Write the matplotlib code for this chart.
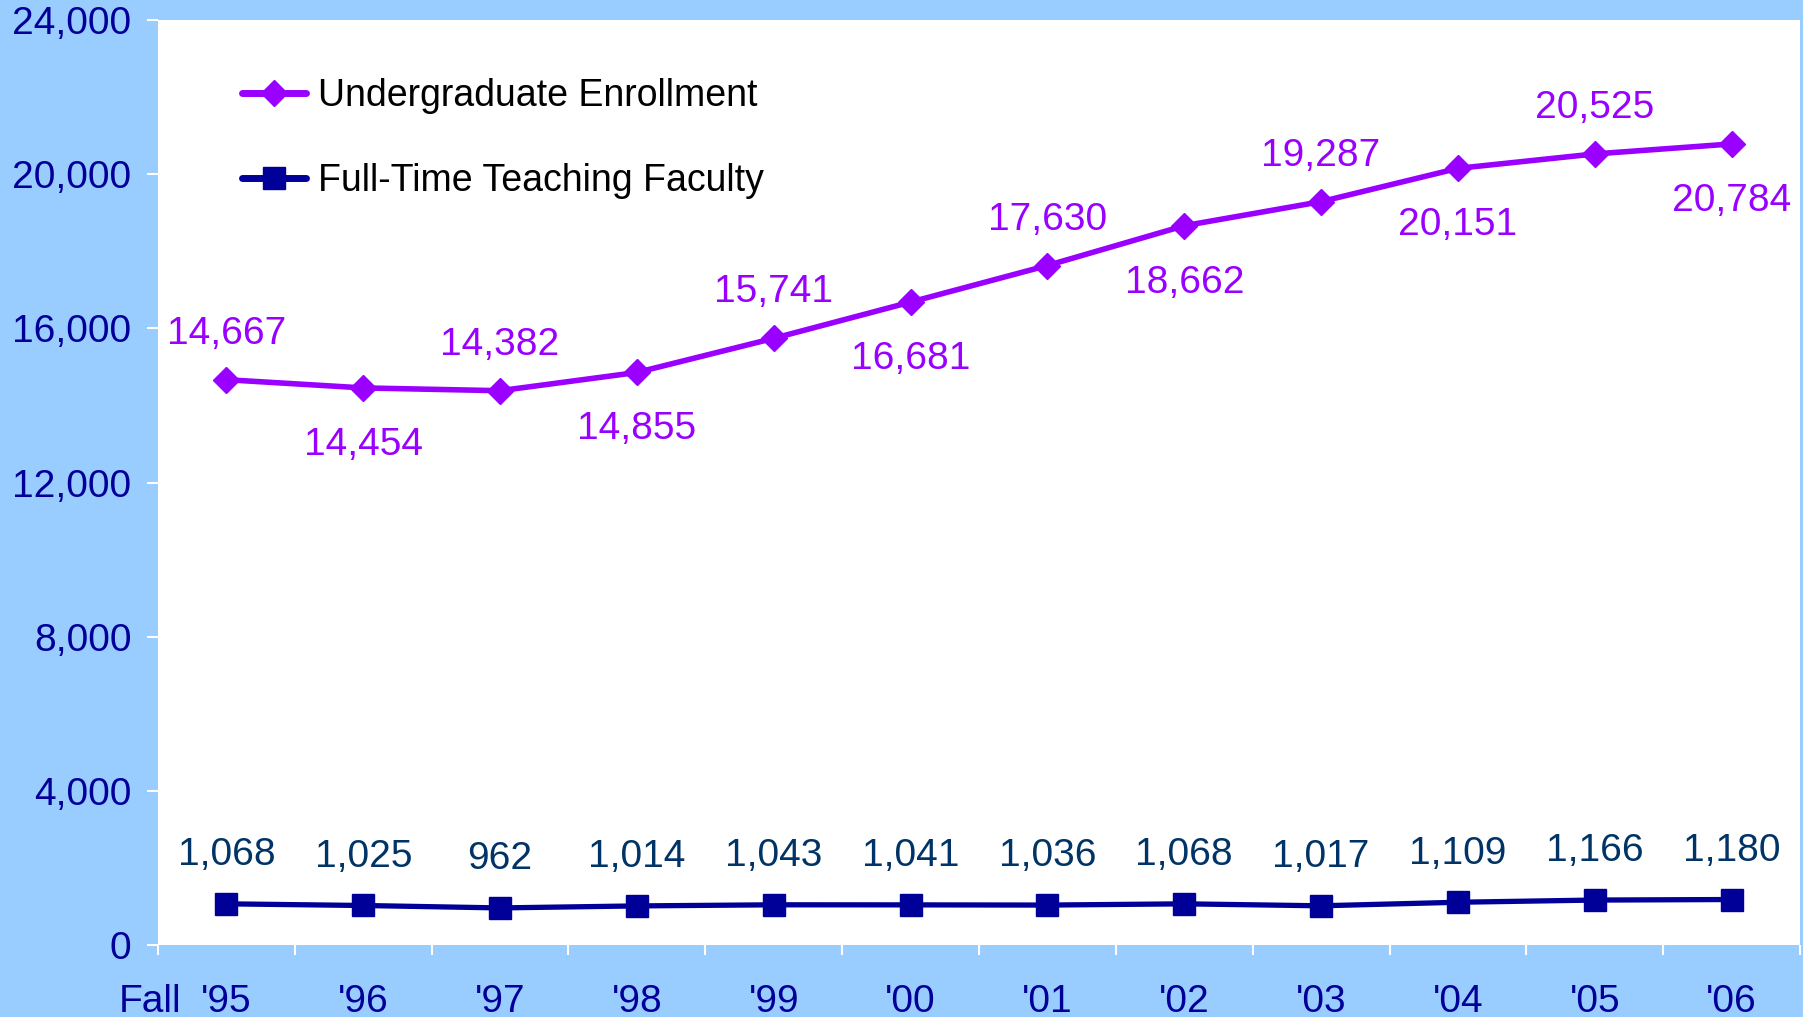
import matplotlib
matplotlib.use("Agg")
import matplotlib.pyplot as plt
import matplotlib.transforms as mtransforms

plt.rcParams['font.family'] = ['Liberation Sans', 'DejaVu Sans']

years = ["'95", "'96", "'97", "'98", "'99", "'00", "'01", "'02", "'03", "'04", "'05", "'06"]
enrollment = [14667, 14454, 14382, 14855, 15741, 16681, 17630, 18662, 19287, 20151, 20525, 20784]
faculty = [1068, 1025, 962, 1014, 1043, 1041, 1036, 1068, 1017, 1109, 1166, 1180]
yticks = [0, 4000, 8000, 12000, 16000, 20000, 24000]
series_names = ["Undergraduate Enrollment", "Full-Time Teaching Faculty"]

BG = '#99CCFF'
PURPLE = '#9900FF'
NAVY = '#000099'
LABEL_NAVY = '#003366'
TICK_COLOR = '#000099'
FS = 28

fig = plt.figure(figsize=(18.03, 10.17), dpi=100, facecolor=BG)
ax = fig.add_axes([158/1803, 72/1017, (1800-158)/1803, (945-20)/1017])
ax.set_facecolor('white')

x = list(range(len(years)))
ax.plot(x, enrollment, color=PURPLE, lw=4.0, marker='D', ms=13.5,
        mfc=PURPLE, mec=PURPLE, label=series_names[0], zorder=3)
ax.plot(x, faculty, color=NAVY, lw=3.8, marker='s', ms=16.5,
        mfc=NAVY, mec=NAVY, label=series_names[1], zorder=3)

# data labels
for i, v in enumerate(enrollment):
    dy = 33 if i % 2 == 0 else -41
    ax.annotate(f"{v:,}", (i, v), xytext=(0, dy), textcoords='offset points',
                ha='center', va='center', fontsize=FS, color=PURPLE)
for i, v in enumerate(faculty):
    ax.annotate(f"{v:,}", (i, v), xytext=(0, 35), textcoords='offset points',
                ha='center', va='center', fontsize=FS, color=LABEL_NAVY)

ax.set_xlim(-0.5, len(years) - 0.5)
ax.set_ylim(0, 24000)
ax.set_yticks(yticks)
ax.set_yticklabels([f"{t:,}" for t in yticks])
ax.tick_params(axis='y', colors='white', length=8, width=1.5, pad=11,
               labelsize=FS, labelcolor=TICK_COLOR)

ax.set_xticks(x)
ax.set_xticklabels(years)
ax.set_xticks([i - 0.5 for i in range(len(years) + 1)], minor=True)
ax.tick_params(axis='x', which='major', length=0, pad=28, labelsize=FS,
               labelcolor=TICK_COLOR)
ax.tick_params(axis='x', which='minor', colors='white', length=7, width=1.5)

for s in ax.spines.values():
    s.set_visible(False)

# "Fall" prefix
trans = mtransforms.blended_transform_factory(fig.transFigure, ax.transAxes)
ax.text(150/1803, 0, "Fall", ha='center', va='top', fontsize=FS, color=TICK_COLOR,
        transform=trans + mtransforms.ScaledTranslation(0, -28/72, fig.dpi_scale_trans))

leg = ax.legend(loc='upper left', bbox_to_anchor=(84/1642, 1 - 58/925), frameon=False,
                fontsize=27, handlelength=1.7, handletextpad=0.34, labelspacing=1.3,
                borderaxespad=0, borderpad=0)
for h in leg.legend_handles:
    h.set_solid_capstyle('round')
    h.set_linewidth(5)

fig.savefig('out.png', dpi=100, facecolor=BG)
